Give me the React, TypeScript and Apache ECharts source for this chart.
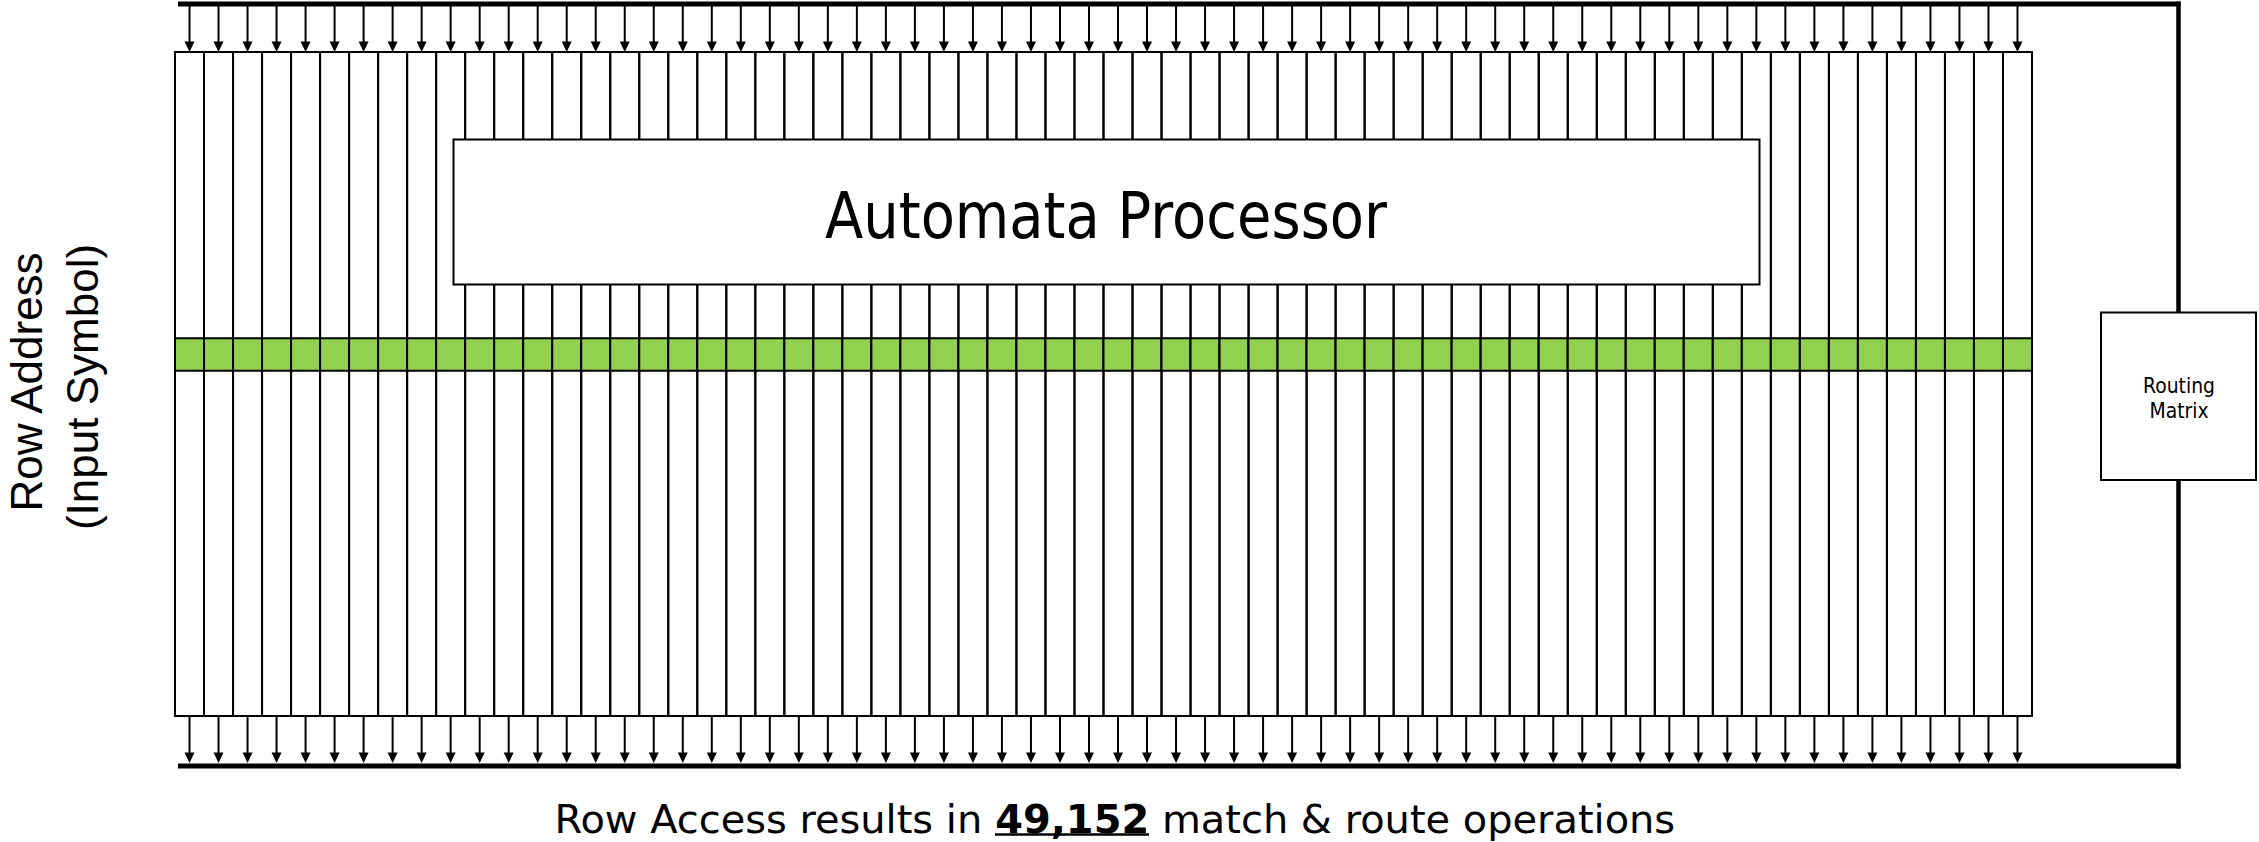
import React, { useEffect, useRef } from 'react';
import * as echarts from 'echarts';

// ---- data ----
const COLUMN_COUNT = 64;
const columns: string[] = Array.from({ length: COLUMN_COUNT }, (_, i) => `Column ${i + 1}`);
const columnExtent: number[] = [0, 100]; // column top / bottom, % of column height
const selectedRow: number[] = [43.1, 48.0]; // highlighted row, % of column height
const titleText = 'Automata Processor';
const routingLines: string[] = ['Routing', 'Matrix'];
const axisLines: string[] = ['Row Address', '(Input Symbol)'];
const captionParts: string[] = ['Row Access results in ', '49,152', ' match & route operations'];

const GREEN = '#92D050';
const INK = '#000000';
const FAM = '"DejaVu Sans", Verdana, sans-serif';
const ARIAL = '"Liberation Sans", Arial, sans-serif';

function measure(text: string, size: number, weight: string, family: string): number {
  const c = document.createElement('canvas').getContext('2d')!;
  c.font = `${weight} ${size}px ${family}`;
  return c.measureText(text).width;
}

export default function App() {
  const ref = useRef<HTMLDivElement>(null);
  useEffect(() => {
    document.body.style.margin = '0';
    const chart = echarts.init(ref.current!, null, { renderer: 'svg' });

    const titleSize = 63.5;
    const titleScale = 562 / measure(titleText, titleSize, 'normal', FAM);
    const routeSize = 21.4;
    const routeScale = 72 / measure(routingLines[0], routeSize, 'normal', FAM);

    const capSize = 39.8;
    const wL = measure(captionParts[0], capSize, 'normal', FAM);
    const wB = measure(captionParts[1], capSize, 'bold', FAM);
    const wR = measure(captionParts[2], capSize, 'normal', FAM);
    const wS = measure(' ', capSize, 'normal', FAM);
    const capScale = 1121 / (wL + wB + wR);

    const option: any = {
      animation: false,
      backgroundColor: '#ffffff',
      grid: { left: 175, top: 52, width: 1857, height: 664, containLabel: false },
      xAxis: { type: 'category', data: columns, show: false, boundaryGap: true },
      yAxis: { type: 'value', min: columnExtent[0], max: columnExtent[1], inverse: true, show: false },
      series: [
        {
          type: 'custom',
          coordinateSystem: 'cartesian2d',
          clip: false,
          silent: true,
          data: columns.map((c, i) => [i, columnExtent[0], columnExtent[1]]),
          renderItem: (params: any, api: any) => {
            const idx = api.value(0);
            const top = api.coord([idx, api.value(1)]);
            const bot = api.coord([idx, api.value(2)]);
            const g0 = api.coord([idx, selectedRow[0]]);
            const g1 = api.coord([idx, selectedRow[1]]);
            const w = api.size([1, 0])[0];
            const cx = top[0];
            const x0 = cx - w / 2;
            const yTop = top[1];
            const yBot = bot[1];
            return {
              type: 'group',
              children: [
                { type: 'rect', shape: { x: x0, y: yTop, width: w, height: yBot - yTop }, style: { fill: 'none', stroke: INK, lineWidth: 2 } },
                { type: 'rect', shape: { x: x0, y: g0[1], width: w, height: g1[1] - g0[1] }, style: { fill: GREEN, stroke: INK, lineWidth: 2 } },
                { type: 'line', shape: { x1: cx, y1: yTop - 46, x2: cx, y2: yTop - 9 }, style: { stroke: INK, lineWidth: 2 } },
                { type: 'polygon', shape: { points: [[cx - 5, yTop - 10.5], [cx + 5, yTop - 10.5], [cx, yTop]] }, style: { fill: INK } },
                { type: 'line', shape: { x1: cx, y1: yBot, x2: cx, y2: yBot + 37 }, style: { stroke: INK, lineWidth: 2 } },
                { type: 'polygon', shape: { points: [[cx - 5, yBot + 36.5], [cx + 5, yBot + 36.5], [cx, yBot + 47]] }, style: { fill: INK } },
              ],
            };
          },
        },
      ],
      graphic: [
        { type: 'line', z: 10, shape: { x1: 178, y1: 4, x2: 2180.5, y2: 4 }, style: { stroke: INK, lineWidth: 5 } },
        { type: 'line', z: 10, shape: { x1: 178, y1: 766, x2: 2180.5, y2: 766 }, style: { stroke: INK, lineWidth: 5 } },
        { type: 'line', z: 10, shape: { x1: 2178.5, y1: 1.5, x2: 2178.5, y2: 768.5 }, style: { stroke: INK, lineWidth: 4.5 } },
        { type: 'rect', z: 11, shape: { x: 2101, y: 312.5, width: 155, height: 167.5 }, style: { fill: '#fff', stroke: INK, lineWidth: 2 } },
        { type: 'rect', z: 11, shape: { x: 453.5, y: 139.5, width: 1306, height: 145 }, style: { fill: '#fff', stroke: INK, lineWidth: 2 } },
        {
          type: 'text', z: 12, x: 1106, y: 216, scaleX: titleScale,
          style: { text: titleText, fontSize: titleSize, fontFamily: FAM, fill: INK, align: 'center', verticalAlign: 'middle' },
        },
        {
          type: 'text', z: 12, x: 2179, y: 386, scaleX: routeScale,
          style: { text: routingLines[0], fontSize: routeSize, fontFamily: FAM, fill: INK, align: 'center', verticalAlign: 'middle' },
        },
        {
          type: 'text', z: 12, x: 2179, y: 410.5, scaleX: routeScale,
          style: { text: routingLines[1], fontSize: routeSize, fontFamily: FAM, fill: INK, align: 'center', verticalAlign: 'middle' },
        },
        {
          type: 'text', z: 12, x: 26, y: 382, rotation: Math.PI / 2,
          style: { text: axisLines[0], fontSize: 44, fontFamily: ARIAL, fill: INK, align: 'center', verticalAlign: 'middle' },
        },
        {
          type: 'text', z: 12, x: 82, y: 387, rotation: Math.PI / 2,
          style: { text: axisLines[1], fontSize: 44, fontFamily: ARIAL, fill: INK, align: 'center', verticalAlign: 'middle' },
        },
        {
          type: 'group', z: 12, x: 554.5, y: 819, scaleX: capScale,
          children: [
            { type: 'text', x: 0, y: 0, style: { text: captionParts[0].trim(), fontSize: capSize, fontFamily: FAM, fill: INK, align: 'left', verticalAlign: 'middle' } },
            { type: 'text', x: wL, y: 0, style: { text: captionParts[1], fontSize: capSize, fontWeight: 'bold', fontFamily: FAM, fill: INK, align: 'left', verticalAlign: 'middle' } },
            { type: 'text', x: wL + wB + wS, y: 0, style: { text: captionParts[2].trim(), fontSize: capSize, fontFamily: FAM, fill: INK, align: 'left', verticalAlign: 'middle' } },
            { type: 'line', shape: { x1: wL, y1: 15.5, x2: wL + wB, y2: 15.5 }, style: { stroke: INK, lineWidth: 2.5 } },
          ],
        },
      ],
    };
    chart.setOption(option);
    return () => chart.dispose();
  }, []);
  return (
    <div
      ref={ref}
      style={{ position: 'absolute', left: 0, top: 0, width: 2259, height: 842, background: '#fff' }}
    />
  );
}
